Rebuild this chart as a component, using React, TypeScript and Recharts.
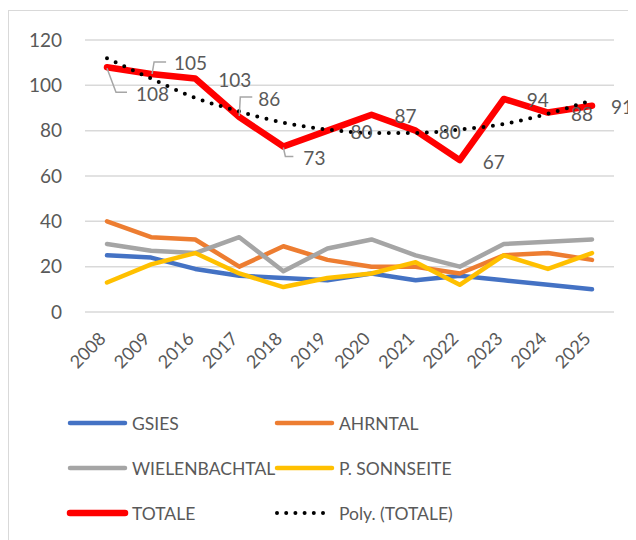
import React from "react";
import { LineChart, Line, XAxis, YAxis, CartesianGrid } from "recharts";

const years = ["2008", "2009", "2016", "2017", "2018", "2019", "2020", "2021", "2022", "2023", "2024", "2025"];
const gsies = [25, 24, 19, 16, 15, 14, 17, 14, 16, 14, 12, 10];
const ahrntal = [40, 33, 32, 20, 29, 23, 20, 20, 17, 25, 26, 23];
const wielenbachtal = [30, 27, 26, 33, 18, 28, 32, 25, 20, 30, 31, 32];
const sonnseite = [13, 21, 26, 17, 11, 15, 17, 22, 12, 25, 19, 26];
const totale = [108, 105, 103, 86, 73, 80, 87, 80, 67, 94, 88, 91];
const polyTotale = [112, 103, 94.5, 88.5, 83.5, 80.5, 79, 79, 80.5, 83, 87.5, 93.5];
const yTicks = [0, 20, 40, 60, 80, 100, 120];

const data = years.map((year, i) => ({
  year,
  gsies: gsies[i],
  ahrntal: ahrntal[i],
  wielenbachtal: wielenbachtal[i],
  sonnseite: sonnseite[i],
  totale: totale[i],
  poly: polyTotale[i],
}));

const FONT = "Lato, 'Open Sans', sans-serif";
const TXT = "#595959";

// label offsets for the few labels Excel moved off their default spot (with leader lines)
type Nudge = { dx: number; dy: number; leader?: [number, number][] };
const LABEL_NUDGE: Record<number, Nudge> = {
  0: { dx: 29, dy: 26, leader: [[0, 1], [9, 25], [20, 25]] },
  1: { dx: 23, dy: -12, leader: [[1, 0], [3, -12], [15, -12]] },
  3: { dx: 19, dy: -19, leader: [[0, -1], [1, -20], [13, -20]] },
  4: { dx: 20, dy: 11, leader: [[0, 1], [2, 10], [10, 10]] },
  11: { dx: 19, dy: 1 },
};

function TotLabel(props: any) {
  const x = props.x ?? props.viewBox?.x;
  const y = props.y ?? props.viewBox?.y;
  const n = LABEL_NUDGE[props.index] || { dx: 23, dy: 1 };
  return (
    <g>
      {n.leader && (
        <polyline
          points={n.leader.map(([a, b]) => `${x + a},${y + b}`).join(" ")}
          fill="none"
          stroke="#A6A6A6"
          strokeWidth={1.5}
        />
      )}
      <text x={x + n.dx} y={y + n.dy} dominantBaseline="central" fontSize={19} fill={TXT} fontFamily={FONT}>
        {props.value}
      </text>
    </g>
  );
}

function YearTick({ x, y, payload }: any) {
  return (
    <text
      transform={`translate(${x - 5},${y + 15}) rotate(-45)`}
      textAnchor="end"
      dominantBaseline="central"
      fontSize={18}
      fill={TXT}
      fontFamily={FONT}
    >
      {payload.value}
    </text>
  );
}

const legendItems = [
  { name: "GSIES", color: "#4472C4", w: 4.5 },
  { name: "AHRNTAL", color: "#ED7D31", w: 4.5 },
  { name: "WIELENBACHTAL", color: "#A5A5A5", w: 4.5 },
  { name: "P. SONNSEITE", color: "#FFC000", w: 4.5 },
  { name: "TOTALE", color: "#FF0000", w: 6.5 },
  { name: "Poly. (TOTALE)", color: "#000000", w: 4, dotted: true },
];

function ChartLegend() {
  return (
    <svg width={620} height={140} style={{ position: "absolute", left: 0, top: 390 }}>
      {legendItems.map((it, i) => {
        const col = i % 2;
        const row = Math.floor(i / 2);
        const x0 = col === 0 ? 62 : 269;
        const cy = 25 + row * 45;
        return (
          <g key={it.name}>
            <line
              x1={x0}
              x2={x0 + 55}
              y1={cy}
              y2={cy}
              stroke={it.color}
              strokeWidth={it.w}
              strokeLinecap="round"
              strokeDasharray={it.dotted ? "0 9.2" : undefined}
            />
            <text x={x0 + 62} y={cy} dominantBaseline="central" fontSize={17.5} fill={TXT} fontFamily={FONT}>
              {it.name}
            </text>
          </g>
        );
      })}
    </svg>
  );
}

export default function App() {
  return (
    <div style={{ position: "relative", width: 628, height: 532 }}>
      <div
        style={{
          position: "absolute",
          left: 0,
          top: 2,
          right: 0,
          bottom: 0,
          borderLeft: "1px solid #D9D9D9",
          borderTop: "1px solid #D9D9D9",
        }}
      />
      <div style={{ position: "absolute", left: 0, top: 0 }}>
        <LineChart width={628} height={380} data={data} margin={{ top: 32, right: 22, bottom: 0, left: 0 }}>
          <CartesianGrid vertical={false} stroke="#D9D9D9" strokeWidth={1.5} />
          <XAxis
            dataKey="year"
            axisLine={false}
            tickLine={false}
            tick={<YearTick />}
            height={76}
            interval={0}
            padding={{ left: 22, right: 22 }}
          />
          <YAxis
            domain={[0, 120]}
            ticks={yTicks}
            axisLine={false}
            tickLine={false}
            width={77}
            tickMargin={17}
            tick={{ fontSize: 19, fill: TXT, fontFamily: FONT }}
          />
          <Line dataKey="gsies" stroke="#4472C4" strokeWidth={4.5} dot={false} strokeLinecap="round" strokeLinejoin="round" isAnimationActive={false} />
          <Line dataKey="ahrntal" stroke="#ED7D31" strokeWidth={4.5} dot={false} strokeLinecap="round" strokeLinejoin="round" isAnimationActive={false} />
          <Line dataKey="wielenbachtal" stroke="#A5A5A5" strokeWidth={4.5} dot={false} strokeLinecap="round" strokeLinejoin="round" isAnimationActive={false} />
          <Line dataKey="sonnseite" stroke="#FFC000" strokeWidth={4.5} dot={false} strokeLinecap="round" strokeLinejoin="round" isAnimationActive={false} />
          <Line
            dataKey="totale"
            stroke="#FF0000"
            strokeWidth={6.5}
            dot={false}
            strokeLinecap="round"
            strokeLinejoin="round"
            isAnimationActive={false}
            label={(p: any) => <TotLabel key={p.index} {...p} />}
          />
          <Line
            dataKey="poly"
            type="monotone"
            stroke="#000000"
            strokeWidth={4}
            strokeDasharray="0 9.5"
            strokeLinecap="round"
            dot={false}
            isAnimationActive={false}
          />
        </LineChart>
      </div>
      <ChartLegend />
    </div>
  );
}
